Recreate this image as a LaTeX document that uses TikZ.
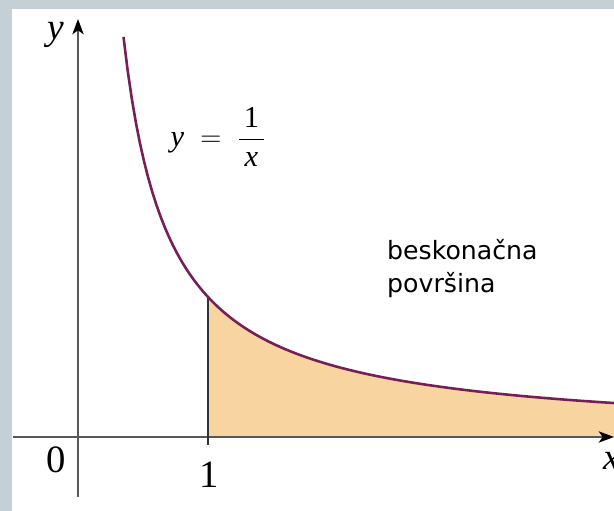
\documentclass[tikz,border=0pt]{standalone}
\usepackage{amsmath}
\usepackage{fontspec}
\setmainfont{Liberation Serif}
\newfontfamily\areafont{DejaVu Sans}
\usetikzlibrary{arrows.meta}
\definecolor{framegray}{RGB}{197,208,214}
\definecolor{areafill}{RGB}{248,212,160}
\definecolor{curvepurple}{RGB}{118,30,86}
\definecolor{axisgray}{RGB}{88,88,88}
\tikzset{
    axis/.style={draw=axisgray, line width=1.4pt,
    -{Stealth[length=0.46cm, width=0.34cm, inset=0.12cm, color=black]}},
    curve/.style={draw=curvepurple, line width=2.2pt},
    bound/.style={draw=black!80, line width=1.1pt},
    ticklabel/.style={font=\fontsize{33}{40}\selectfont, inner sep=0pt},
    axislabel/.style={font=\fontsize{32}{38}\selectfont\itshape, inner sep=0pt, anchor=base west},
    arealabel/.style={font=\areafont\fontsize{21.5}{30}\selectfont, inner sep=0pt, anchor=base west},
}

\begin{document}
\begin{tikzpicture}[x=0.03cm, y=0.03cm]
    % --- frame ---
    \useasboundingbox (0,0) rectangle (614,511);
    \fill[framegray] (0,0) rectangle (614,511);
    \fill[white] (12,0) rectangle (614,502);
    % --- points ---
    \coordinate (O) at (78,74);
    \coordinate (xstart) at (13,74);
    \coordinate (xend) at (614,74);
    \coordinate (ystart) at (78,14);
    \coordinate (yend) at (78,492);
    \coordinate (onebot) at (208,66);
    \coordinate (onetop) at (208,214);
    % --- area under the curve ---
    \fill[areafill] (onetop)
        -- plot[domain=1:4.13, samples=80] ({78+130*\x}, {74+140/\x})
        -- (614.9,74) -- (208,74) -- cycle;
    % --- axes ---
    \draw[axis] (xstart) -- (xend);
    \draw[axis] (ystart) -- (yend);
    \draw[bound] (onebot) -- (onetop);
    % --- curve ---
    \draw[curve] plot[domain=0.35:4.13, samples=120] ({78+130*\x}, {74+140/\x});
    % --- labels ---
    \node[axislabel] (ylabel) at (47,471) {y};
    \node[axislabel] (xlabel) at (603,41) {x};
    \node[ticklabel] (zero) at (56,51) {0};
    \node[ticklabel] (one) at (209,36) {1};
    \node[font=\fontsize{26}{31}\selectfont, inner sep=0pt] (eq) at (218,374)
        {$\textit{y}\;=\;\dfrac{\,\text{1}\,}{\,\textit{x}\,}$};
    \node[arealabel] (line1) at (387,251) {beskonačna};
    \node[arealabel] (line2) at (387,218) {površina};
\end{tikzpicture}
\end{document}
